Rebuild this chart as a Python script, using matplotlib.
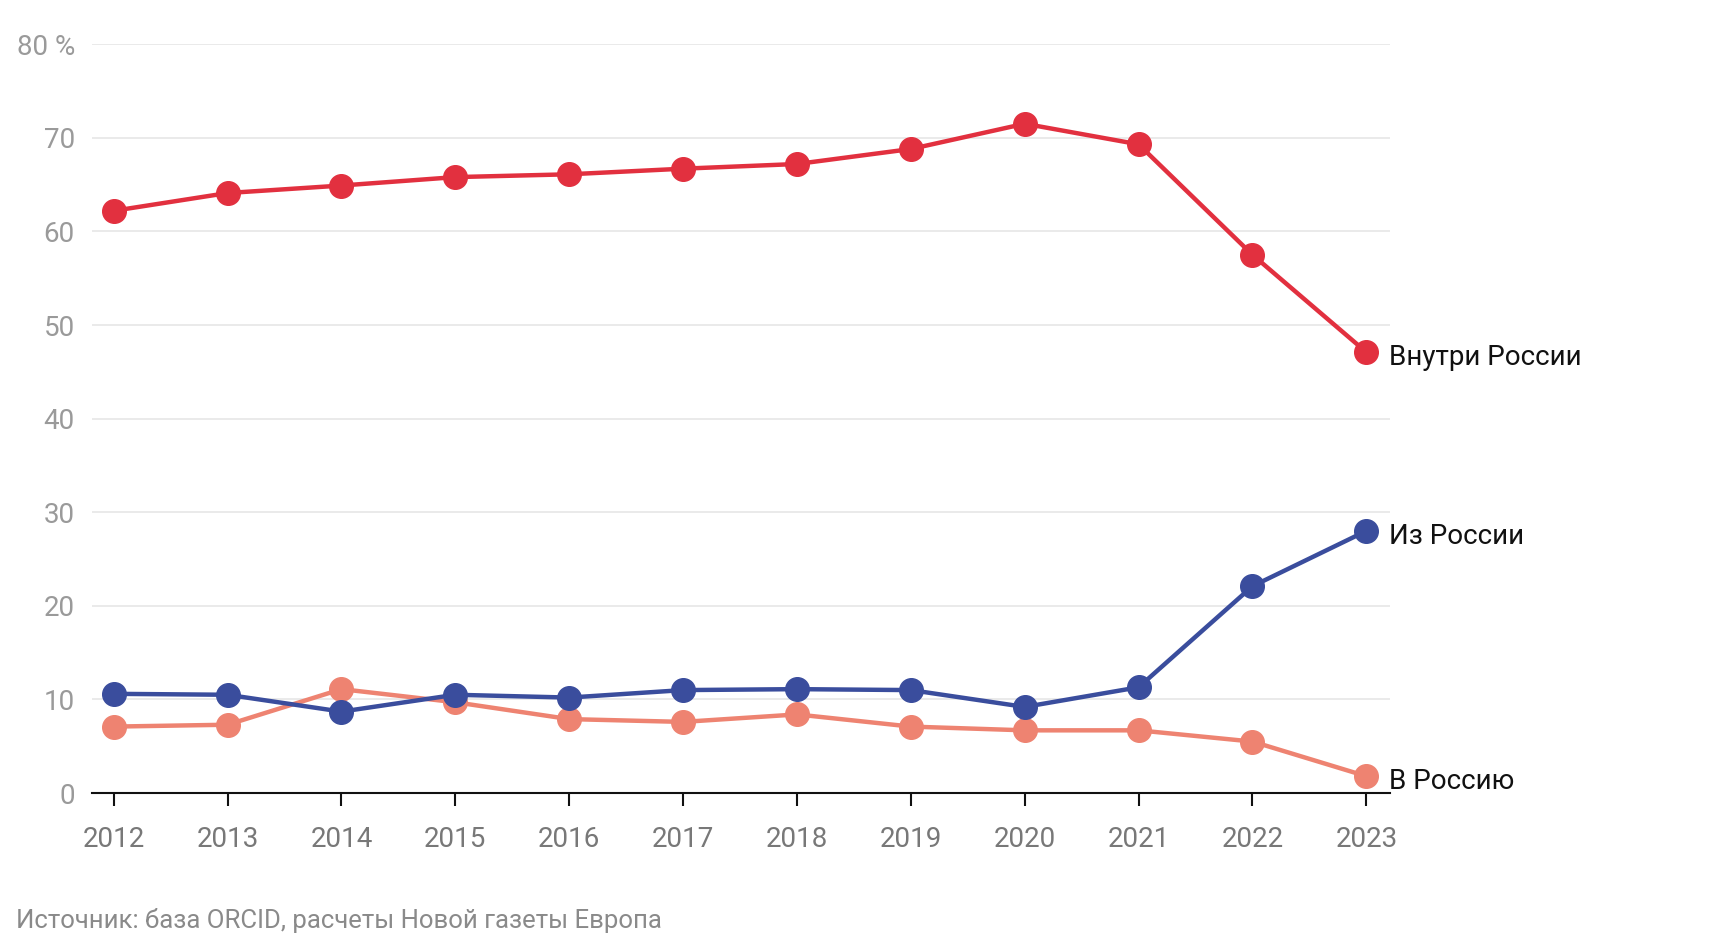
import matplotlib.pyplot as plt

plt.rcParams['font.family'] = ['Roboto', 'DejaVu Sans']

years = [2012, 2013, 2014, 2015, 2016, 2017, 2018, 2019, 2020, 2021, 2022, 2023]
inside = [62.2, 64.1, 64.9, 65.8, 66.1, 66.7, 67.2, 68.8, 71.5, 69.3, 57.5, 47.1]
from_russia = [10.6, 10.5, 8.7, 10.5, 10.2, 11.0, 11.1, 11.0, 9.2, 11.3, 22.1, 28.0]
to_russia = [7.1, 7.3, 11.1, 9.7, 7.9, 7.6, 8.4, 7.1, 6.7, 6.7, 5.5, 1.8]
yticks = [0, 10, 20, 30, 40, 50, 60, 70, 80]
ytick_labels = ['0', '10', '20', '30', '40', '50', '60', '70', '80 %']

series = [
    (to_russia, '#ee8371', 'В Россию'),
    (from_russia, '#3a4d9d', 'Из России'),
    (inside, '#e2303f', 'Внутри России'),
]

fig = plt.figure(figsize=(17.32, 9.44), dpi=100)
ax = fig.add_axes([0.0529, 0.1599, 0.7494, 0.7933])

for vals, col, name in series:
    ax.plot(years, vals, color=col, lw=3.2, marker='o', markersize=17,
            clip_on=False, zorder=3)
    ax.annotate(name, (years[-1], vals[-1]), xytext=(16, -4),
                textcoords='offset points', va='center', ha='left',
                fontsize=20, color='#111111')

ax.set_xlim(2011.806, 2023.204)
ax.set_ylim(0, 80)
ax.set_xticks(years)
ax.set_xticklabels([str(y) for y in years])
ax.set_yticks(yticks)
ax.set_yticklabels(ytick_labels)
ax.grid(axis='y', color='#e6e6e6', lw=1.2)
ax.set_axisbelow(True)
for s in ['top', 'right', 'left']:
    ax.spines[s].set_visible(False)
ax.spines['bottom'].set_color('#111111')
ax.spines['bottom'].set_linewidth(1.5)
ax.spines['bottom'].set_zorder(2)
ax.tick_params(axis='x', length=9.5, width=1.5, color='#111111',
               labelsize=20, labelcolor='#787878', pad=14)
ax.tick_params(axis='y', length=0, labelsize=20, labelcolor='#9a9a9a', pad=12)

fig.text(0.009, 0.0245, 'Источник: база ORCID, расчеты Новой газеты Европа',
         fontsize=18.5, color='#8a8a8a', va='center', ha='left')

fig.savefig('out.png', dpi=100)
